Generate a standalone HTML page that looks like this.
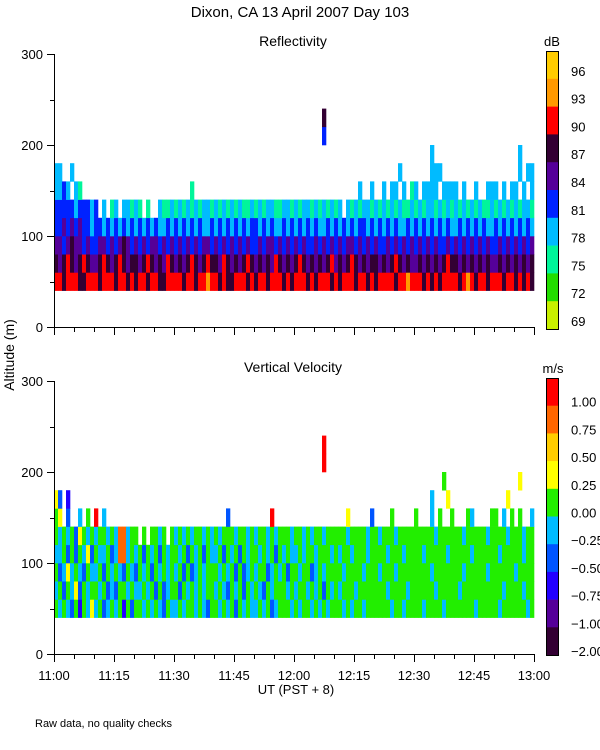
<!DOCTYPE html>
<html><head><meta charset="utf-8"><style>
html,body{margin:0;padding:0;background:#fff;}
svg{display:block;font-family:"Liberation Sans",sans-serif;}
</style></head><body>
<svg id="fig" width="600" height="750" xmlns="http://www.w3.org/2000/svg">
<text x="300" y="17" text-anchor="middle" font-size="15">Dixon, CA 13 April 2007  Day 103</text>
<text x="293" y="46" text-anchor="middle" font-size="14">Reflectivity</text>
<text x="293" y="372" text-anchor="middle" font-size="14">Vertical Velocity</text>
<text x="0" y="0" transform="translate(14,355) rotate(-90)" text-anchor="middle" font-size="14">Altitude (m)</text>
<text x="296" y="694" text-anchor="middle" font-size="13">UT  (PST + 8)</text>
<text x="35" y="727" font-size="11">Raw data, no quality checks</text>
<text x="552" y="46" text-anchor="middle" font-size="13">dB</text>
<text x="553" y="373" text-anchor="middle" font-size="13">m/s</text>
</svg>
<script>
const timeTicks = ["11:00","11:15","11:30","11:45","12:00","12:15","12:30","12:45","13:00"];
const altTicks = [0,100,200,300];
const gateBase = [40,60,80,100,120,140,160,180,200,220];
const dbLabels = ["96","93","90","87","84","81","78","75","72","69"];
const dbColors = ["#c8f000","#22dd00","#00f59a","#00bbff","#0022ff","#550099","#330033","#ff0000","#ff9900","#ffcc00"];
const velLabels = ["1.00","0.75","0.50","0.25","0.00","\u22120.25","\u22120.50","\u22120.75","\u22121.00","\u22122.00"];
const velColors = ["#330033","#550099","#2200ff","#0055ff","#00bbff","#22ee00","#ffff00","#ffcc00","#ff6600","#ff0000"];
const reflRows = [
["7767776677","7677767767","6776776677","7767767787","7676677767","6776777676","7776767776","7677767767","6777767787","7767676777","7678767767","7767767676"],
["6567656765","5676567656","6567656576","5656765676","6576565676","5656576565","6765656567","5656765656","6565676565","5656565676","6565656565","5656565656"],
["5545655454","4554545654","5454554545","4545454554","5454545454","4545545454","5454454545","4545545454","5445454545","4545454454","5454545454","4545454545"],
["4454545443","4434343434","3434343343","4343434334","3434343434","4343433434","3434343343","4343434434","3434343343","4343434343","3434343433","4343434343"],
["4444434443","4.3.23.332","32.2..3223","2323232332","3232323223","2323322332","3233232323","23.3232332","3232323223","2323323232","3232323223","2323232332"],
["3343.32...","..........","..........","....2.....","..........","..........","..........","......3..3","..3.33.3.2","3.3333.333","3.3..3..33","3.3.33.3.3"],
["33..3.....","..........","..........","..........","..........","..........","..........","..........","......3...","....333...","..........","......3.33"],
["..........","..........","..........","..........","..........","..........","..........","..........","..........","....3.....","..........","......3..."],
["..........","..........","..........","..........","..........","..........",".......4..","..........","..........","..........","..........",".........."],
["..........","..........","..........","..........","..........","..........",".......6..","..........","..........","..........","..........",".........."]
];
const velRows = [
["5454352546","4534545253","5545454354","4545545435","5454535454","4545345554","5455454545","5545455455","5555455455","5545555455","5555545555","5455555545"],
["4535463545","5453435545","4454535345","5354545455","4543545354","5435455545","4554545354","5455545555","5554555545","5555545555","5455555555","5545555455"],
["5346454354","4535454354","3545354545","4535345455","5454535345","4553454535","5455345455","5545555455","5455545555","5555455555","5545555545","5555545555"],
["4453535463","5445348845","4535453545","5453545354","4535453545","5454535454","4545545554","5455455545","5554555455","5545555545","5555455555","5455555455"],
["5454536545","4554548845","5.5.5545.5","4545455454","5455545545","4554545554","5545455455","5554555545","5455545555","5555545555","5545555545","5554555455"],
["56.3..4.5.","9.4.......","..........","..........","...3......","....9.....","..........","...6.....3","....5.....","5...4.5..5","...54....5","5.4.5.5..4"],
["63.2......","..........","..........","..........","..........","..........","..........","..........","..........","....4...6.","..........","...6......"],
["..........","..........","..........","..........","..........","..........","..........","..........","..........",".......5..","..........","......6..."],
["..........","..........","..........","..........","..........","..........",".......9..","..........","..........","..........","..........",".........."],
["..........","..........","..........","..........","..........","..........",".......9..","..........","..........","..........","..........",".........."]
];
const NS="http://www.w3.org/2000/svg";
const svg=document.getElementById('fig');
function mk(tag,attrs,parent){const e=document.createElementNS(NS,tag);for(const k in attrs)e.setAttribute(k,attrs[k]);(parent||svg).appendChild(e);return e;}
const X0=54,X1=534;
function drawPanel(rows,colors,yTop,yBot,name,showX){
  const g=mk('g',{});
  
  
  const yS=v=>yBot-(v/300)*(yBot-yTop);
  rows.forEach((chunks,ri)=>{
    const s=chunks.join('');
    const n=s.length;const w=(X1-X0)/n;
    for(let c=0;c<n;c++){
      const ch=s[c];if(ch==='.')continue;
      const r=mk('rect',{x:(X0+c*w).toFixed(2),y:yS(gateBase[ri]+20).toFixed(2),width:(w+0.3).toFixed(2),height:(yS(gateBase[ri])-yS(gateBase[ri]+20)+0.3).toFixed(2),fill:colors[+ch]},g);
      
      
    }
  });
  const ax=mk('g',{stroke:'#000','stroke-width':1,fill:'none'});
  
  
  mk('line',{x1:X0+0.5,y1:yTop,x2:X0+0.5,y2:yBot+0.5},ax);
  mk('line',{x1:X0,y1:yBot+0.5,x2:X1+1,y2:yBot+0.5},ax);
  for(let v=0;v<=300;v+=50){const y=Math.round(yS(v))+0.5;mk('line',{x1:X0-(v%100===0?7:4),y1:y,x2:X0,y2:y},ax);}
  altTicks.forEach(v=>{const t=mk('text',{x:X0-11,y:yS(v)+5,'text-anchor':'end','font-size':13});t.textContent=v;});
  const nT=(timeTicks.length-1)*3;
  for(let i=0;i<=nT;i++){const x=Math.round(X0+i*(X1-X0)/nT)+0.5;mk('line',{x1:x,y1:yBot,x2:x,y2:yBot+(i%3===0?8:5)},ax);}
  if(showX)timeTicks.forEach((t,i)=>{const e=mk('text',{x:X0+i*(X1-X0)/(timeTicks.length-1),y:yBot+26,'text-anchor':'middle','font-size':13});e.textContent=t;});
}
function drawBar(colors,labels,yTop,yBot,x,name){
  const g=mk('g',{});
  
  
  const n=colors.length,h=(yBot-yTop)/n;
  for(let i=0;i<n;i++){
    const r=mk('rect',{x:x,y:(yTop+i*h).toFixed(2),width:12,height:(h+0.3).toFixed(2),fill:colors[n-1-i]},g);
    
    
    const t=mk('text',{x:x+25,y:(yTop+i*h+h+(name==='velocity'?1:-3)).toFixed(1),'font-size':13},g);
    t.textContent=labels[i];
    
    
  }
  mk('rect',{x:x+0.5,y:yTop+0.5,width:12,height:yBot-yTop,fill:'none',stroke:'#000'},g);
}
drawPanel(reflRows,dbColors,54,327,'reflectivity',false);
drawPanel(velRows,velColors,381,654,'velocity',true);
drawBar(dbColors,dbLabels,51,329,546,'reflectivity');
drawBar(velColors,velLabels,378,655,546,'velocity');
</script>
</body></html>
